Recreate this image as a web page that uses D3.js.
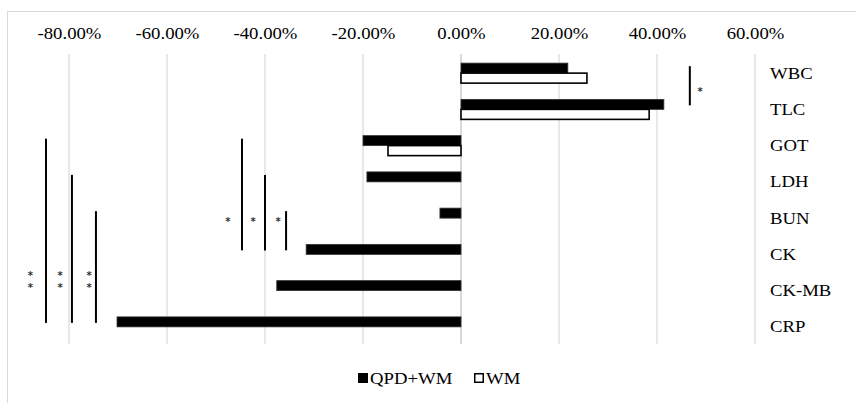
<!DOCTYPE html>
<html>
<head>
<meta charset="utf-8">
<script src="https://cdn.jsdelivr.net/npm/d3@7"></script>
<style>
  html, body { margin: 0; padding: 0; background: #fff; }
  svg text { font-family: "Liberation Serif", "Times New Roman", serif; fill: #000; }
</style>
</head>
<body>
<svg id="chart" width="856" height="403"></svg>
<script>
// chart data
var categories = ['WBC', 'TLC', 'GOT', 'LDH', 'BUN', 'CK', 'CK-MB', 'CRP'];
var seriesNames = ['QPD+WM', 'WM'];
var qpdWm = [21.8, 41.4, -20.0, -19.2, -4.3, -31.6, -37.6, -70.2];
var wm = [25.7, 38.4, -14.9, 0, 0, 0, 0, 0];
var tickValues = [-80, -60, -40, -20, 0, 20, 40, 60];

// significance brackets: line x (in %), star x (in %), stars
var brackets = [
    { from: 'WBC', to: 'TLC', at: 46.7, starAt: 48.8, stars: 1 },
    { from: 'GOT', to: 'CRP', at: -84.7, starAt: -87.9, stars: 2 },
    { from: 'LDH', to: 'CRP', at: -79.4, starAt: -81.8, stars: 2 },
    { from: 'BUN', to: 'CRP', at: -74.5, starAt: -75.9, stars: 2 },
    { from: 'GOT', to: 'CK', at: -44.7, starAt: -47.6, stars: 1 },
    { from: 'LDH', to: 'CK', at: -40.0, starAt: -42.4, stars: 1 },
    { from: 'BUN', to: 'CK', at: -35.7, starAt: -37.3, stars: 1 }
];

var svg = d3.select('#chart');
var stretch = 1.17;   // text in the original is drawn a bit wide

// outer frame
svg.append('rect')
    .attr('x', 7.5).attr('y', 11.5)
    .attr('width', 870).attr('height', 420)
    .style('fill', 'none').style('stroke', '#d9d9d9');

var xScale = d3.scaleLinear().domain([-80, 60]).range([69, 755]);
var yScale = d3.scaleBand().domain(categories).range([55, 345]);
var subScale = d3.scaleBand().domain(seriesNames).range([-10, 10]);

// gridlines
svg.append('g')
    .selectAll('line')
    .data(tickValues)
    .enter()
    .append('line')
    .attr('x1', function (d) { return xScale(d); })
    .attr('x2', function (d) { return xScale(d); })
    .attr('y1', 54)
    .attr('y2', 344)
    .style('stroke', '#d9d9d9')
    .style('stroke-width', function (d) { return d === 0 ? 2 : 1.2; });

// top axis labels
var axis = svg.append('g')
    .attr('transform', 'translate(0, 39)')
    .call(d3.axisTop(xScale).tickValues(tickValues).tickSize(0).tickPadding(0)
        .tickFormat(function (d) { return (d < 0 ? '-' : '') + Math.abs(d).toFixed(2) + '%'; }));
axis.select('.domain').remove();
axis.selectAll('text')
    .attr('y', 0).attr('dy', 0)
    .style('font-size', '16px')
    .style('font-family', '"Liberation Serif", "Times New Roman", serif')
    .attr('transform', 'scale(' + stretch + ',1)');

// bars
var rows = categories.map(function (c, i) {
    return [
        { cat: c, series: 'QPD+WM', value: qpdWm[i] },
        { cat: c, series: 'WM', value: wm[i] }
    ];
});
var barData = [].concat.apply([], rows).filter(function (d) { return d.value !== 0; });

svg.append('g')
    .selectAll('rect')
    .data(barData)
    .enter()
    .append('rect')
    .attr('x', function (d) { return Math.min(xScale(0), xScale(d.value)); })
    .attr('width', function (d) { return Math.abs(xScale(d.value) - xScale(0)); })
    .attr('y', function (d) { return yScale(d.cat) + yScale.bandwidth() / 2 + subScale(d.series); })
    .attr('height', subScale.bandwidth())
    .style('fill', function (d) { return d.series === 'QPD+WM' ? '#000' : '#fff'; })
    .style('stroke', function (d) { return d.series === 'QPD+WM' ? '#333' : '#000'; })
    .style('stroke-width', function (d) { return d.series === 'QPD+WM' ? 0.8 : 1.6; });

// category labels on the right
svg.append('g')
    .selectAll('text')
    .data(categories)
    .enter()
    .append('text')
    .attr('x', 0)
    .attr('y', 0)
    .attr('dy', '0.35em')
    .attr('transform', function (d) {
        return 'translate(770,' + (yScale(d) + yScale.bandwidth() / 2) + ') scale(' + stretch + ',1)';
    })
    .style('font-size', '16px')
    .text(function (d) { return d; });

// significance brackets
function center(c) { return yScale(c) + yScale.bandwidth() / 2; }

var bg = svg.append('g');
bg.selectAll('line')
    .data(brackets)
    .enter()
    .append('line')
    .attr('x1', function (d) { return xScale(d.at); })
    .attr('x2', function (d) { return xScale(d.at); })
    .attr('y1', function (d) { return center(d.from) - 7; })
    .attr('y2', function (d) { return center(d.to) - 4; })
    .style('stroke', '#000')
    .style('stroke-width', 2);

// star marks, one text per star
var starData = [];
brackets.forEach(function (b) {
    var y;
    if (b.from === 'WBC') y = (center(b.from) + center(b.to)) / 2 - 1;
    else if (b.stars === 1) y = center('BUN') + 2;
    else y = center('CK-MB') - 17;
    for (var k = 0; k < b.stars; k++) {
        starData.push({ x: xScale(b.starAt), y: y + k * 12 });
    }
});
bg.selectAll('text')
    .data(starData)
    .enter()
    .append('text')
    .attr('x', function (d) { return d.x; })
    .attr('y', function (d) { return d.y; })
    .attr('dy', '0.5em')
    .attr('text-anchor', 'middle')
    .style('font-size', '10px')
    .style('font-weight', 'bold')
    .style('font-family', '"DejaVu Sans", sans-serif')
    .style('fill', '#333')
    .text('*');

// legend
var legend = svg.append('g').attr('transform', 'translate(0, 378)');
var legendItems = [
    { name: seriesNames[0], x: 358, fill: '#000' },
    { name: seriesNames[1], x: 474, fill: '#fff' }
];
var li = legend.selectAll('g')
    .data(legendItems)
    .enter()
    .append('g')
    .attr('transform', function (d) { return 'translate(' + d.x + ',0)'; });
li.append('rect')
    .attr('x', 0.75).attr('y', -4.25)
    .attr('width', 8.5).attr('height', 8.5)
    .style('fill', function (d) { return d.fill; })
    .style('stroke', '#000')
    .style('stroke-width', 1.5);
li.append('text')
    .attr('x', 0).attr('y', 0)
    .attr('dy', '0.35em')
    .attr('transform', 'translate(12,0) scale(' + stretch + ',1)')
    .style('font-size', '16px')
    .text(function (d) { return d.name; });
</script>
</body>
</html>
